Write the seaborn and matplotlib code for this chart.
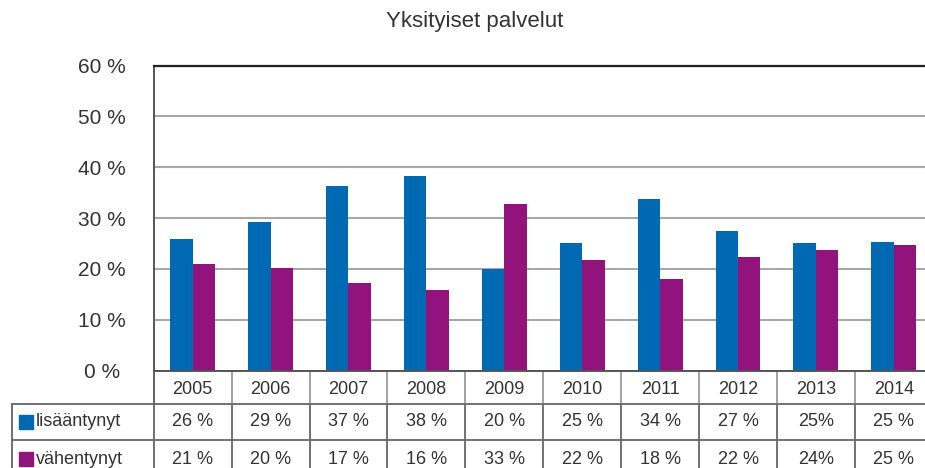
import numpy as np
import pandas as pd
import seaborn as sns
import matplotlib.pyplot as plt
from matplotlib import transforms

# data
years = ['2005', '2006', '2007', '2008', '2009', '2010', '2011', '2012', '2013', '2014']
series = ['lisääntynyt', 'vähentynyt']
increased = [25.9, 29.3, 36.3, 38.3, 20.0, 25.0, 33.7, 27.4, 25.1, 25.3]
decreased = [21.0, 20.2, 17.2, 15.9, 32.7, 21.7, 18.0, 22.4, 23.7, 24.7]
increased_labels = ['26 %', '29 %', '37 %', '38 %', '20 %', '25 %', '34 %', '27 %', '25%', '25 %']
decreased_labels = ['21 %', '20 %', '17 %', '16 %', '33 %', '22 %', '18 %', '22 %', '24%', '25 %']
ytick_values = [0, 10, 20, 30, 40, 50, 60]

colors = ['#0069b4', '#93137d']
text_col = '#333333'

sns.set_style('white')
plt.rcParams['font.family'] = ['Liberation Sans', 'DejaVu Sans']

df = pd.DataFrame({
    'vuosi': years * 2,
    'osuus': increased + decreased,
    'sarja': [series[0]] * len(years) + [series[1]] * len(years),
})

W, H = 925, 468
fig = plt.figure(figsize=(W / 100, H / 100), dpi=100)
ax = fig.add_axes([153.7 / W, 1 - 370.5 / H, (932.8 - 153.7) / W, (370.5 - 65.5) / H])

sns.barplot(data=df, x='vuosi', y='osuus', hue='sarja', palette=colors,
            width=0.576, saturation=1, linewidth=0, legend=False, ax=ax)

ax.set_xlim(-0.5, 9.5)
ax.set_ylim(0, 60)
ax.set_yticks(ytick_values)
ax.set_yticklabels([f'{v} %' for v in ytick_values], fontsize=15, color=text_col, ha='center')
ax.tick_params(axis='y', left=False, pad=34)
ax.tick_params(axis='x', bottom=False, labelbottom=False)
ax.set_xlabel('')
ax.set_ylabel('')

# grid + frame
ax.set_axisbelow(True)
ax.yaxis.grid(True, color='#a8a8a8', lw=1.5)
ax.axhline(10, color='#555555', lw=1.3, zorder=0.5)
ax.spines['right'].set_visible(False)
ax.spines['top'].set_color('#222222')
ax.spines['top'].set_linewidth(1.6)
ax.spines['left'].set_color('#555555')
ax.spines['left'].set_linewidth(1.4)
ax.spines['bottom'].set_color('#555555')
ax.spines['bottom'].set_linewidth(1.4)

fig.text(474.5 / W, 1 - 22 / H, 'Yksityiset palvelut', ha='center', va='center',
         fontsize=16, color=text_col)

# data table under the chart
trans = transforms.blended_transform_factory(ax.transData, fig.transFigure)


def fy(px):
    return 1 - px / H


x_left = -0.5 - (153.7 - 12) / 77.9
row_lines = [404.3, 440.3]
for y in row_lines:
    ax.plot([x_left, 9.5], [fy(y), fy(y)], transform=trans, clip_on=False,
            color='#666666', lw=1.3)

# header separators (lighter) and body separators
for k in range(10):
    xb = k - 0.5
    ax.plot([xb, xb], [fy(370.5), fy(404.3)], transform=trans, clip_on=False,
            color='#555555' if k == 0 else '#9a9a9a', lw=1.3)
for xb in [x_left] + [k - 0.5 for k in range(10)]:
    ax.plot([xb, xb], [fy(404.3), fy(480)], transform=trans, clip_on=False,
            color='#666666', lw=1.3)

for i, yr in enumerate(years):
    ax.text(i, fy(390), yr, transform=trans, ha='center', va='center',
            fontsize=13, color=text_col)
    ax.text(i, fy(422), increased_labels[i], transform=trans, ha='center', va='center',
            fontsize=13, color=text_col)
    ax.text(i, fy(459), decreased_labels[i], transform=trans, ha='center', va='center',
            fontsize=13, color=text_col)

sq_x = -0.5 - (153.7 - 26) / 77.9
lab_x = -0.5 - (153.7 - 36) / 77.9
for name, col, ypx in zip(series, colors, [422, 459]):
    ax.plot([sq_x], [fy(ypx)], marker='s', ms=10, color=col, ls='',
            transform=trans, clip_on=False)
    ax.text(lab_x, fy(ypx), name, transform=trans, ha='left', va='center',
            fontsize=13, color=text_col)

fig.savefig('out.png', dpi=100)
